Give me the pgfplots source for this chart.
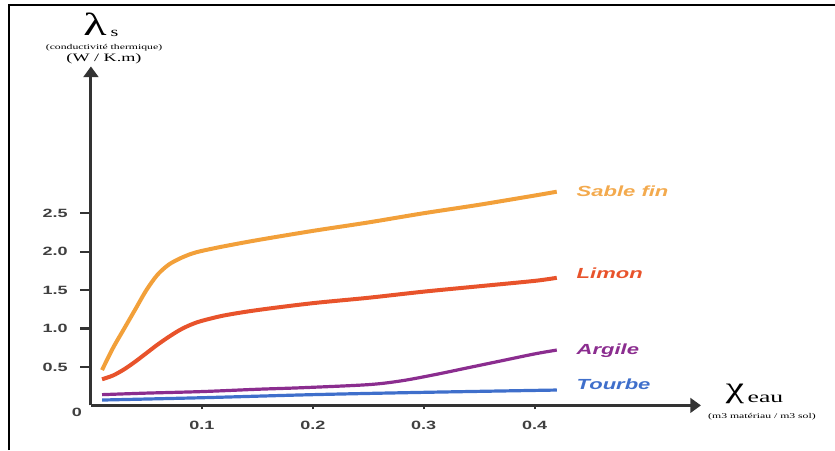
\documentclass[border=0pt]{standalone}
\usepackage{pgfplots}
\pgfplotsset{compat=1.18}
\usepackage{graphicx}
\usepackage{fontspec}
\usetikzlibrary{arrows.meta}
\setmainfont{Liberation Serif}
\newfontfamily\wsans[FakeStretch=1.5]{Liberation Sans}
\newfontfamily\wserif[FakeStretch=1.6]{Liberation Serif}
\definecolor{sable}{HTML}{F2A03A}
\definecolor{limon}{HTML}{E8532B}
\definecolor{argile}{HTML}{8B2D8F}
\definecolor{tourbe}{HTML}{3F6FCB}
\begin{document}
\begin{tikzpicture}[x=0.75pt,y=0.75pt]
\useasboundingbox (0,0) rectangle (835,450);
\draw[line width=2.2pt] (9,0) -- (9,445) -- (835,445);
\begin{axis}[at={(82,58)}, anchor=origin, scale only axis,
  width=457.5pt, height=254.25pt,
  xmin=0, xmax=0.55, ymin=0, ymax=4.41,
  axis x line=bottom, axis y line=left,
  axis line style={line width=2.2pt, black!80, -{Triangle[length=8pt,width=11pt]}},
  xtick={0.1,0.2,0.3,0.4}, ytick={0.5,1,1.5,2,2.5},
  tick align=outside, major tick length=8pt,
  tick style={line width=1.6pt, black!80},
  xtick style={/pgfplots/major tick length=3pt},
  tick label style={font=\wsans\bfseries\fontsize{9}{10}\selectfont, text=black!75},
  /pgf/number format/assume math mode=true,
  yticklabel style={xshift=-6pt, /pgf/number format/.cd, fixed, fixed zerofill, precision=1},
  xticklabel style={/pgf/number format/.cd, fixed, precision=1},
  clip=false,
]
\addplot[sable, line width=3pt, smooth] coordinates {
(0.01,0.46)(0.02,0.75)(0.03,1.0)(0.04,1.25)(0.05,1.50)(0.06,1.70)(0.07,1.83)(0.08,1.91)(0.09,1.97)(0.1,2.01)(0.12,2.07)(0.15,2.15)(0.2,2.27)(0.25,2.38)(0.3,2.50)(0.35,2.61)(0.4,2.73)(0.42,2.78)};
\addplot[limon, line width=3pt, smooth] coordinates {
(0.01,0.34)(0.02,0.39)(0.03,0.47)(0.04,0.57)(0.05,0.68)(0.06,0.79)(0.07,0.89)(0.08,0.98)(0.09,1.05)(0.1,1.10)(0.12,1.17)(0.15,1.24)(0.2,1.33)(0.25,1.40)(0.3,1.48)(0.35,1.55)(0.4,1.62)(0.42,1.66)};
\addplot[argile, line width=2.4pt, smooth] coordinates {
(0.01,0.14)(0.05,0.16)(0.1,0.18)(0.15,0.21)(0.19,0.23)(0.25,0.27)(0.28,0.32)(0.31,0.40)(0.34,0.49)(0.37,0.58)(0.4,0.67)(0.42,0.72)};
\addplot[tourbe, line width=2.4pt, smooth] coordinates {
(0.01,0.07)(0.1,0.10)(0.2,0.14)(0.3,0.17)(0.42,0.20)};
\end{axis}
\node[font=\wsans\bfseries\fontsize{9}{10}\selectfont, text=black!75] at (77,38) {0};
\node[anchor=west, font=\wsans\bfseries\itshape\fontsize{11}{12}\selectfont, text=sable!90] at (572,259) {Sable fin};
\node[anchor=west, font=\wsans\bfseries\itshape\fontsize{11}{12}\selectfont, text=limon] at (572,177) {Limon};
\node[anchor=west, font=\wsans\bfseries\itshape\fontsize{11}{12}\selectfont, text=argile] at (572,99) {Argile};
\node[anchor=west, font=\wsans\bfseries\itshape\fontsize{11}{12}\selectfont, text=tourbe] at (572,66) {Tourbe};
\node at (95,426) {\scalebox{1.5}[1]{\fontsize{24}{24}\selectfont λ}};
\node[anchor=west] at (106,417) {\scalebox{1.5}[1]{\fontsize{10}{10}\selectfont s}};
\node[font=\wserif\fontsize{5.5}{6}\selectfont] at (104,402) {(conductivité thermique)};
\node[font=\wserif\fontsize{8.5}{9}\selectfont] at (104,391) {(W / K.m)};
\node at (735,56) {\scalebox{1.4}[1]{\fontsize{22}{22}\selectfont χ}};
\node[anchor=west, font=\wserif\fontsize{12}{12}\selectfont] at (743,51) {eau};
\node[font=\wserif\fontsize{5.5}{6}\selectfont] at (762,33) {(m3 matériau / m3 sol)};
\end{tikzpicture}
\end{document}
